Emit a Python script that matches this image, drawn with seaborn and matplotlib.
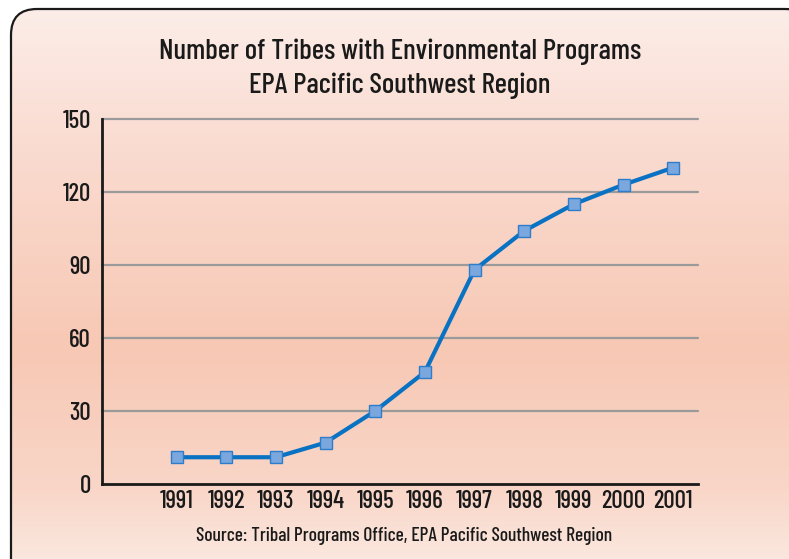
import numpy as np
import pandas as pd
import matplotlib
matplotlib.use("Agg")
import matplotlib.pyplot as plt
from matplotlib import font_manager
from matplotlib.patches import FancyBboxPatch
from matplotlib.colors import LinearSegmentedColormap
import seaborn as sns

years = ["1991", "1992", "1993", "1994", "1995", "1996", "1997", "1998", "1999", "2000", "2001"]
tribes = [11, 11, 11, 17, 30, 46, 88, 104, 115, 123, 130]
y_ticks = [0, 30, 60, 90, 120, 150]
title_lines = ["Number of Tribes with Environmental Programs", "EPA Pacific Southwest Region"]
source_text = "Source: Tribal Programs Office, EPA Pacific Southwest Region"

sns.set_theme(style="white")
names = {f.name for f in font_manager.fontManager.ttflist}
fams = [f for f in ["Barlow Condensed", "Asap Condensed", "Archivo Narrow"] if f in names]
plt.rcParams["font.family"] = fams + ["DejaVu Sans"]
plt.rcParams["font.weight"] = 500

df = pd.DataFrame({"pos": np.arange(len(years)), "year": years, "tribes": tribes})

fig = plt.figure(figsize=(7.89, 5.59), dpi=100)
fig.patch.set_facecolor("white")

# background gradient panel with rounded border
bg = fig.add_axes([0, 0, 1, 1])
bg.set_xlim(0, 789)
bg.set_ylim(559, 0)
bg.axis("off")
cmap = LinearSegmentedColormap.from_list(
    "bgr", [(0.0, "#fcede8"), (0.25, "#fadbd0"), (0.6, "#f7c8b4"), (0.85, "#f9d6c8"), (1.0, "#fbebe3")])
grad = np.linspace(0, 1, 256).reshape(-1, 1)
im = bg.imshow(grad, cmap=cmap, aspect="auto", extent=[11, 800, 575, 9], zorder=0)
box = FancyBboxPatch((11, 9), 800, 580, boxstyle="round,pad=0,rounding_size=26",
                     facecolor="none", edgecolor="#1a1a1a", linewidth=1.6, zorder=2)
bg.add_patch(box)
im.set_clip_path(box)

ax = fig.add_axes([102 / 789, 1 - 484 / 559, (698 - 102) / 789, (484 - 119) / 559])
ax.set_facecolor("none")

sns.lineplot(data=df, x="pos", y="tribes", ax=ax, color="#0a72c2", linewidth=3.0,
             marker="s", markersize=9, markerfacecolor="#7aa7dd", markeredgecolor="#2d7dcc",
             markeredgewidth=1.0, zorder=5)

ax.set_xlim(-1.5, len(years) - 0.5)
ax.set_ylim(0, 150)
ax.set_yticks(y_ticks)
ax.set_yticklabels([str(v) for v in y_ticks], fontsize=18, color="#1a1a1a")
ax.set_xticks(df["pos"])
ax.set_xticklabels(years, fontsize=18, color="#1a1a1a")
ax.set_xticks(np.arange(-0.5, len(years)), minor=True)
ax.tick_params(axis="x", which="major", length=0, pad=4)
ax.tick_params(axis="x", which="minor", length=9, width=1.8, direction="in", color="#1a1a1a")
ax.tick_params(axis="y", length=0, pad=8)
ax.set_xlabel("")
ax.set_ylabel("")

for v in y_ticks[1:]:
    ax.axhline(v, color="#9a9a9a", linewidth=1.6, zorder=1, clip_on=False)

for s in ["top", "right"]:
    ax.spines[s].set_visible(False)
for s in ["left", "bottom"]:
    ax.spines[s].set_color("#1a1a1a")
    ax.spines[s].set_linewidth(2.0)

fig.text(400 / 789, 1 - 52 / 559, title_lines[0], ha="center", va="center", fontsize=21, color="#1a1a1a")
fig.text(400 / 789, 1 - 86 / 559, title_lines[1], ha="center", va="center", fontsize=21, color="#1a1a1a")
fig.text(404 / 789, 1 - 536 / 559, source_text, ha="center", va="center", fontsize=14, color="#1a1a1a")

fig.savefig("out.png", dpi=100)
